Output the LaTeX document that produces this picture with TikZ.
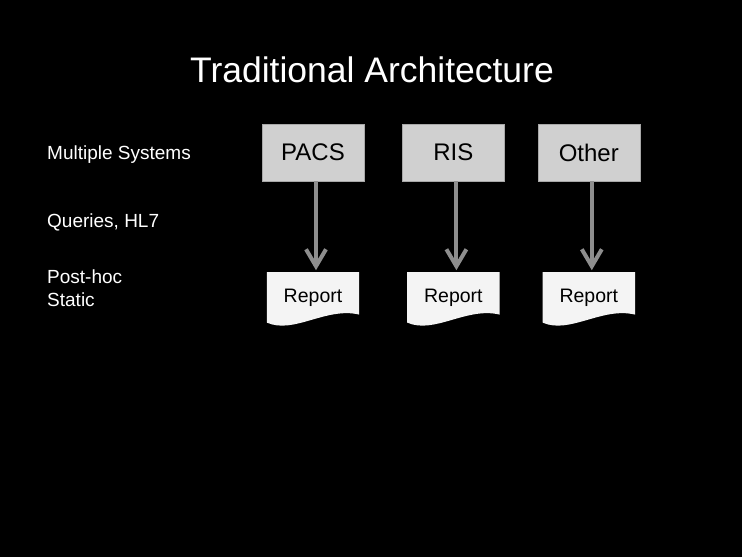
\documentclass[tikz,border=0pt]{standalone}
\usepackage{fontspec}
\setmainfont{Liberation Sans}
\usepackage{tikz}
\usetikzlibrary{arrows.meta,positioning}

\definecolor{boxgray}{HTML}{D0D0D0}
\definecolor{boxline}{HTML}{A8A8A8}
\definecolor{arrowgray}{HTML}{8E8E8E}
\definecolor{docfill}{HTML}{F4F4F4}

\begin{document}
\begin{tikzpicture}[x=1pt,y=-1pt,
system/.style={draw=boxline, fill=boxgray, minimum width=102pt, minimum height=57pt, inner sep=0pt, font=\fontsize{24}{28}\selectfont},
report/.style={minimum width=92pt, minimum height=50pt, inner sep=0pt, font=\fontsize{19.5}{23}\selectfont},
side/.style={text=white, inner sep=0pt, align=left, font=\fontsize{19}{23}\selectfont},
arrow/.style={-{Straight Barb[length=17pt,width=20pt]}, line width=4pt, draw=arrowgray, shorten >=2pt}
]
\fill[black] (0,0) rectangle (742,557);
\useasboundingbox (0,0) rectangle (742,557);

\node[text=white, anchor=base, font=\fontsize{35.5}{42}\selectfont] (title) at (372,82) {Traditional Architecture};

\node[side, anchor=base west] (multi) at (47,159) {Multiple Systems};
\node[side, anchor=base west] (queries) at (47,227) {Queries, HL7};
\node[side, anchor=base west] (posthoc) at (47,306) {Post-hoc\\Static};

\node[system] (pacs) at (313,152.5) {PACS};
\node[system, right=38pt of pacs] (ris) {RIS};
\node[system, right=33pt of ris] (other) {Other};

\node[report, below=91pt of pacs] (rep1) {Report};
\node[report, below=91pt of ris] (rep2) {Report};
\node[report, below=91pt of other] (rep3) {Report};

% document shapes behind the report texts
\foreach \r in {rep1,rep2,rep3}
  \fill[docfill] (\r.north west) -- (\r.north east) -- ([yshift=8pt]\r.south east)
    .. controls +(-33pt,8pt) and +(27pt,-12pt) .. (\r.south west) -- cycle;
\foreach \r in {rep1,rep2,rep3}
  \node[report] at (\r) {Report};

\draw[arrow] ([xshift=3pt]pacs.south) -- ([xshift=3pt]rep1.north);
\draw[arrow] ([xshift=3pt]ris.south) -- ([xshift=3pt]rep2.north);
\draw[arrow] ([xshift=3pt]other.south) -- ([xshift=3pt]rep3.north);
\end{tikzpicture}
\end{document}
